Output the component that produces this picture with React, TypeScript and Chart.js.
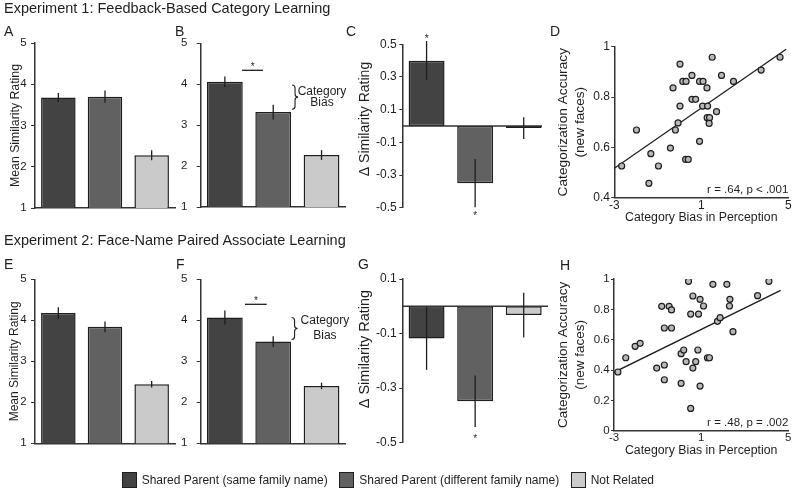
import React, { useEffect, useRef } from 'react';
import { Chart, registerables } from 'chart.js';

Chart.register(...registerables);

const FONT = "'Liberation Sans', Arial, Helvetica, sans-serif";
const INK = '#1e1e1e';
const AXIS = '#333333';
const W = 795;
const H = 490;

Chart.defaults.font.family = FONT;
Chart.defaults.color = INK;

// ---------------- data ----------------
const conditions = [
  'Shared Parent (same family name)',
  'Shared Parent (different family name)',
  'Not Related',
];
const barColors = ['#434343', '#616161', '#cacaca'];

const ratingTicks = [1, 2, 3, 4, 5];
const deltaTicksExp1 = [-0.5, -0.3, -0.1, 0.1, 0.3, 0.5];
const deltaTicksExp2 = [-0.5, -0.3, -0.1, 0.1];
const biasTicks = [-3, 1, 5];
const accTicksExp1 = [0.4, 0.6, 0.8, 1];
const accTicksExp2 = [0, 0.2, 0.4, 0.6, 0.8, 1];

// Experiment 1
const aMeans = [3.68, 3.7, 2.28];
const aErrors = [0.11, 0.15, 0.12];
const bMeans = [4.06, 3.32, 2.27];
const bErrors = [0.13, 0.18, 0.12];
const cDeltas = [0.4, -0.35, -0.013];
const cErrors = [0.12, 0.148, 0.066];
const dBias = [-2.66, -1.98, -1.41, -1.32, -0.97, -0.42, -0.3, -0.19, -0.07, 0.02, 0.02, 0.15, 0.3, 0.28, 0.4, 0.57, 0.57, 0.74, 0.92, 1.08, 0.92, 1.06, 1.26, 1.29, 1.27, 1.38, 1.36, 1.5, 1.7, 1.93, 2.48, 3.75, 4.62];
const dAccuracy = [0.526, 0.669, 0.457, 0.575, 0.526, 0.597, 0.836, 0.669, 0.697, 0.931, 0.764, 0.862, 0.862, 0.552, 0.552, 0.886, 0.791, 0.791, 0.862, 0.862, 0.624, 0.764, 0.836, 0.764, 0.718, 0.718, 0.695, 0.958, 0.742, 0.886, 0.862, 0.907, 0.958];
const dFitX = [-3, 4.9];
const dFitY = [0.517, 0.99];

// Experiment 2
const eMeans = [4.18, 3.84, 2.44];
const eErrors = [0.14, 0.13, 0.08];
const fMeans = [4.07, 3.48, 2.4];
const fErrors = [0.17, 0.13, 0.08];
const gDeltas = [-0.118, -0.348, -0.032];
const gErrors = [0.115, 0.094, 0.082];
const hBias = [-2.82, -2.46, -2.03, -1.8, -1.04, -0.81, -0.69, -0.69, -0.69, -0.47, -0.36, -0.36, 0.08, 0.08, 0.2, 0.31, 0.42, 0.52, 0.52, 0.62, 0.62, 0.75, 0.85, 0.88, 0.95, 0.95, 1.11, 1.29, 1.38, 1.54, 1.75, 1.87, 2.18, 2.32, 2.3, 2.46, 3.59, 4.11];
const hAccuracy = [0.387, 0.481, 0.556, 0.576, 0.413, 0.82, 0.433, 0.336, 0.677, 0.82, 0.796, 0.677, 0.508, 0.312, 0.532, 0.455, 0.985, 0.769, 0.147, 0.888, 0.413, 0.455, 0.532, 0.769, 0.866, 0.294, 0.822, 0.481, 0.481, 0.965, 0.721, 0.745, 0.965, 0.866, 0.822, 0.653, 0.89, 0.985];
const hFitX = [-3, 4.65];
const hFitY = [0.385, 0.925];

// ---------------- helpers ----------------
type Geom = { L: number; T: number; R: number; B: number; wy: number; hx: number };

function padFor(g: Geom) {
  return { left: g.L - g.wy, top: g.T, right: W - g.R, bottom: H - g.B - g.hx };
}

function fixedTicks(values: number[]) {
  return (s: any) => {
    s.ticks = values.map((v) => ({ value: v }));
  };
}

function drawBrace(ctx: CanvasRenderingContext2D, x: number, yTop: number, yBot: number, w: number) {
  const mid = (yTop + yBot) / 2;
  const r = Math.min(3, (yBot - yTop) / 4);
  ctx.beginPath();
  ctx.moveTo(x, yTop);
  ctx.quadraticCurveTo(x + w / 2, yTop, x + w / 2, yTop + r);
  ctx.lineTo(x + w / 2, mid - r);
  ctx.quadraticCurveTo(x + w / 2, mid, x + w, mid);
  ctx.quadraticCurveTo(x + w / 2, mid, x + w / 2, mid + r);
  ctx.lineTo(x + w / 2, yBot - r);
  ctx.quadraticCurveTo(x + w / 2, yBot, x, yBot);
  ctx.stroke();
}

function extrasPlugin(ex: any) {
  return {
    id: 'extras',
    afterDatasetsDraw(chart: any) {
      const ctx: CanvasRenderingContext2D = chart.ctx;
      const xs = chart.scales.x;
      const ys = chart.scales.y;
      const area = chart.chartArea;
      ctx.save();
      ctx.strokeStyle = INK;
      ctx.fillStyle = INK;
      if (ex.zeroLine) {
        const y0 = ys.getPixelForValue(0);
        ctx.strokeStyle = AXIS;
        ctx.lineWidth = 1.5;
        ctx.beginPath();
        ctx.moveTo(area.left, y0);
        ctx.lineTo(area.right - (ex.zeroLine.inset || 0), y0);
        ctx.stroke();
        ctx.strokeStyle = INK;
      }
      if (ex.errors) {
        const meta = chart.getDatasetMeta(0);
        const vals = chart.data.datasets[0].data;
        ctx.lineWidth = 1.3;
        ex.errors.forEach((e: number, i: number) => {
          const px = meta.data[i].x;
          ctx.beginPath();
          ctx.moveTo(px, ys.getPixelForValue(vals[i] + e));
          ctx.lineTo(px, ys.getPixelForValue(vals[i] - e));
          ctx.stroke();
        });
      }
      if (ex.sig) {
        ctx.lineWidth = 1.3;
        const y = ys.getPixelForValue(ex.sig.y);
        ctx.beginPath();
        ctx.moveTo(xs.getPixelForValue(ex.sig.x0), y);
        ctx.lineTo(xs.getPixelForValue(ex.sig.x1), y);
        ctx.stroke();
      }
      if (ex.stars) {
        const size = 10;
        ctx.font = `${size}px ${FONT}`;
        ctx.textAlign = 'center';
        ctx.textBaseline = 'alphabetic';
        ex.stars.forEach((s: any) => {
          ctx.fillText('*', xs.getPixelForValue(s.x), ys.getPixelForValue(s.y) + 0.58 * size);
        });
      }
      if (ex.brace) {
        ctx.lineWidth = 1.1;
        drawBrace(ctx, xs.getPixelForValue(ex.brace.x), ys.getPixelForValue(ex.brace.y0), ys.getPixelForValue(ex.brace.y1), 6);
        ctx.font = `12px ${FONT}`;
        ctx.textAlign = 'center';
        ctx.textBaseline = 'middle';
        ex.brace.labels.forEach((l: any) => {
          ctx.fillText(l.text, xs.getPixelForValue(ex.brace.textX), ys.getPixelForValue(l.y));
        });
      }
      if (ex.sideTitle) {
        const st = ex.sideTitle;
        ctx.font = `${st.size}px ${FONT}`;
        ctx.textAlign = 'center';
        ctx.textBaseline = 'middle';
        ctx.translate(area.left + st.dx, (area.top + area.bottom) / 2 + st.dy);
        ctx.rotate(-Math.PI / 2);
        ctx.fillText(st.text, 0, 0);
        ctx.setTransform(1, 0, 0, 1, 0, 0);
      }
      if (ex.stat) {
        ctx.font = `11.5px ${FONT}`;
        ctx.textAlign = 'right';
        ctx.textBaseline = 'middle';
        ctx.fillText(ex.stat, area.right, area.bottom - 7.5);
      }
      ctx.restore();
    },
  };
}

type BarSpec = {
  values: number[];
  errors: number[];
  min: number;
  max: number;
  ticks: number[];
  g: Geom;
  tickSize: number;
  tickPad: number;
  tickLen: number;
  showX: boolean;
  yTitle?: string;
  yTitleSize?: number;
  extras: any;
};

function barConfig(p: BarSpec): any {
  return {
    type: 'bar',
    data: {
      labels: conditions,
      datasets: [
        {
          data: p.values,
          backgroundColor: barColors,
          borderColor: INK,
          borderWidth: 1.5,
          borderSkipped: false,
          barPercentage: 0.74,
          categoryPercentage: 1,
        },
      ],
    },
    options: {
      responsive: false,
      animation: false,
      events: [],
      layout: { padding: padFor(p.g) },
      plugins: { legend: { display: false }, tooltip: { enabled: false } },
      scales: {
        x: {
          display: p.showX,
          grid: { display: false },
          ticks: { display: false },
          border: { display: true, color: AXIS, width: 1.5 },
          afterFit: (s: any) => {
            s.height = p.g.hx;
          },
        },
        y: {
          min: p.min,
          max: p.max,
          afterBuildTicks: fixedTicks(p.ticks),
          ticks: { font: { size: p.tickSize }, color: INK, padding: p.tickPad, callback: (v: any) => String(v) },
          grid: { display: true, drawOnChartArea: false, drawTicks: true, tickLength: p.tickLen, color: AXIS, lineWidth: 1 },
          border: { display: true, color: AXIS, width: 1.5 },
          title: p.yTitle
            ? { display: true, text: p.yTitle, font: { size: p.yTitleSize }, color: INK, padding: 0 }
            : { display: false },
          afterFit: (s: any) => {
            s.width = p.g.wy;
          },
        },
      },
    },
    plugins: [extrasPlugin({ errors: p.errors, ...p.extras })],
  };
}

type ScatterSpec = {
  xs: number[];
  ys: number[];
  fitX: number[];
  fitY: number[];
  yMin: number;
  yMax: number;
  yTicks: number[];
  g: Geom;
  stat: string;
  tickSize: number;
  xTickPad: number;
  yTitleSize: number;
};

function scatterConfig(p: ScatterSpec): any {
  return {
    type: 'scatter',
    data: {
      datasets: [
        {
          type: 'scatter',
          data: p.xs.map((x, i) => ({ x, y: p.ys[i] })),
          pointRadius: 3,
          pointBackgroundColor: '#b8b8b8',
          pointBorderColor: INK,
          pointBorderWidth: 1.2,
        },
        {
          type: 'line',
          data: p.fitX.map((x, i) => ({ x, y: p.fitY[i] })),
          borderColor: INK,
          borderWidth: 1.3,
          pointRadius: 0,
          showLine: true,
          fill: false,
        },
      ],
    },
    options: {
      responsive: false,
      animation: false,
      events: [],
      layout: { padding: padFor(p.g) },
      plugins: { legend: { display: false }, tooltip: { enabled: false } },
      scales: {
        x: {
          type: 'linear',
          min: -3,
          max: 5,
          afterBuildTicks: fixedTicks(biasTicks),
          ticks: { font: { size: p.tickSize }, color: INK, padding: p.xTickPad, callback: (v: any) => String(v) },
          grid: { display: false },
          border: { display: true, color: AXIS, width: 1.5 },
          title: { display: true, text: 'Category Bias in Perception', font: { size: 12.3 }, color: INK, padding: 0 },
          afterFit: (s: any) => {
            s.height = p.g.hx;
          },
        },
        y: {
          min: p.yMin,
          max: p.yMax,
          afterBuildTicks: fixedTicks(p.yTicks),
          ticks: { font: { size: p.tickSize }, color: INK, padding: 1.3, callback: (v: any) => String(v) },
          grid: { display: true, drawOnChartArea: false, drawTicks: true, tickLength: 3, color: AXIS, lineWidth: 1 },
          border: { display: true, color: AXIS, width: 1.5 },
          title: {
            display: true,
            text: ['Categorization Accuracy', '(new faces)'],
            font: { size: p.yTitleSize, lineHeight: 1.25 },
            color: INK,
            padding: 0,
          },
          afterFit: (s: any) => {
            s.width = p.g.wy;
          },
        },
      },
    },
    plugins: [extrasPlugin({ stat: p.stat })],
  };
}

// ---------------- panel configs ----------------
const panelA = () =>
  barConfig({
    values: aMeans, errors: aErrors, min: 1, max: 5, ticks: ratingTicks,
    g: { L: 35, T: 43, R: 175, B: 208, wy: 27.1, hx: 0 },
    tickSize: 11.5, tickPad: 4.3, tickLen: 4, showX: true,
    yTitle: 'Mean Similarity Rating', yTitleSize: 12.3, extras: {},
  });

const panelB = () =>
  barConfig({
    values: bMeans, errors: bErrors, min: 1, max: 5, ticks: ratingTicks,
    g: { L: 200.7, T: 43.3, R: 345.7, B: 207, wy: 30, hx: 0 },
    tickSize: 11.5, tickPad: 9.4, tickLen: 4, showX: true,
    extras: {
      sig: { x0: 0.355, x1: 0.79, y: 4.34 },
      stars: [{ x: 0.576, y: 4.48 }],
      brace: {
        x: 1.39, y0: 3.98, y1: 3.39, textX: 2.01,
        labels: [{ text: 'Category', y: 3.81 }, { text: 'Bias', y: 3.54 }],
      },
    },
  });

const panelC = () =>
  barConfig({
    values: cDeltas, errors: cErrors, min: -0.5, max: 0.5, ticks: deltaTicksExp1,
    g: { L: 402.3, T: 44.3, R: 548, B: 207.7, wy: 40, hx: 0 },
    tickSize: 12, tickPad: 2.6, tickLen: 3, showX: false,
    extras: {
      zeroLine: { inset: 6 },
      stars: [{ x: 0, y: 0.547 }, { x: 1, y: -0.531 }],
      sideTitle: { text: 'Δ Similarity Rating', size: 14, dx: -37.3, dy: -7 },
    },
  });

const panelD = () =>
  scatterConfig({
    xs: dBias, ys: dAccuracy, fitX: dFitX, fitY: dFitY, yMin: 0.4, yMax: 1, yTicks: accTicksExp1,
    g: { L: 614.3, T: 46.7, R: 788.3, B: 197.7, wy: 59.9, hx: 27.7 },
    stat: 'r = .64, p < .001', tickSize: 12, xTickPad: -7, yTitleSize: 13.7,
  });

const panelE = () =>
  barConfig({
    values: eMeans, errors: eErrors, min: 1, max: 5, ticks: ratingTicks,
    g: { L: 35, T: 279.3, R: 175, B: 443.3, wy: 27.2, hx: 0 },
    tickSize: 11.5, tickPad: 4.3, tickLen: 4, showX: true,
    yTitle: 'Mean Similarity Rating', yTitleSize: 12, extras: {},
  });

const panelF = () =>
  barConfig({
    values: fMeans, errors: fErrors, min: 1, max: 5, ticks: ratingTicks,
    g: { L: 200.7, T: 279.3, R: 345.7, B: 443.3, wy: 30, hx: 0 },
    tickSize: 11.5, tickPad: 9.4, tickLen: 4, showX: true,
    extras: {
      sig: { x0: 0.417, x1: 0.866, y: 4.39 },
      stars: [{ x: 0.644, y: 4.54 }],
      brace: {
        x: 1.38, y0: 4.07, y1: 3.53, textX: 2.07,
        labels: [{ text: 'Category', y: 3.98 }, { text: 'Bias', y: 3.63 }],
      },
    },
  });

const panelG = () =>
  barConfig({
    values: gDeltas, errors: gErrors, min: -0.5, max: 0.1, ticks: deltaTicksExp2,
    g: { L: 402.3, T: 279, R: 548, B: 442.7, wy: 40, hx: 0 },
    tickSize: 12, tickPad: 2.6, tickLen: 3, showX: false,
    extras: {
      zeroLine: { inset: 0 },
      stars: [{ x: 1, y: -0.477 }],
      sideTitle: { text: 'Δ Similarity Rating', size: 14.5, dx: -37.3, dy: -11.8 },
    },
  });

const panelH = () =>
  scatterConfig({
    xs: hBias, ys: hAccuracy, fitX: hFitX, fitY: hFitY, yMin: 0, yMax: 1, yTicks: accTicksExp2,
    g: { L: 614, T: 279, R: 788.3, B: 430.7, wy: 59.3, hx: 27.2 },
    stat: 'r = .48, p = .002', tickSize: 11.5, xTickPad: -7.5, yTitleSize: 13.5,
  });

const panels = [panelA, panelB, panelC, panelD, panelE, panelF, panelG, panelH];

function Panel({ make }: { make: () => any }) {
  const ref = useRef<HTMLCanvasElement | null>(null);
  useEffect(() => {
    if (!ref.current) return;
    const chart = new Chart(ref.current, make());
    return () => chart.destroy();
  }, [make]);
  return (
    <canvas
      ref={ref}
      width={W}
      height={H}
      style={{ position: 'absolute', left: 0, top: 0, width: W, height: H }}
    />
  );
}

const letters = [
  { t: 'A', x: 4, y: 22.5 },
  { t: 'B', x: 175, y: 22.5 },
  { t: 'C', x: 346, y: 22.5 },
  { t: 'D', x: 550, y: 22.5 },
  { t: 'E', x: 4, y: 255.5 },
  { t: 'F', x: 176, y: 255.5 },
  { t: 'G', x: 358, y: 255.5 },
  { t: 'H', x: 560, y: 256.5 },
];

export default function App() {
  const textBase: React.CSSProperties = { position: 'absolute', color: INK, fontFamily: FONT, whiteSpace: 'nowrap' };
  return (
    <div style={{ position: 'fixed', left: 0, top: 0, width: W, height: H, background: '#fff', overflow: 'hidden', fontFamily: FONT }}>
      {panels.map((m, i) => (
        <Panel key={i} make={m} />
      ))}
      <div style={{ ...textBase, left: 4, top: 0, fontSize: 14.5, lineHeight: '17px' }}>
        Experiment 1: Feedback-Based Category Learning
      </div>
      <div style={{ ...textBase, left: 4, top: 232, fontSize: 14.5, lineHeight: '17px' }}>
        Experiment 2: Face-Name Paired Associate Learning
      </div>
      {letters.map((l) => (
        <div key={l.t} style={{ ...textBase, left: l.x, top: l.y, fontSize: 14, lineHeight: '16px' }}>
          {l.t}
        </div>
      ))}
      <div style={{ ...textBase, left: 121.7, top: 471.5, display: 'flex', alignItems: 'center', fontSize: 12, lineHeight: '16px' }}>
        {conditions.map((c, i) => (
          <div key={c} style={{ display: 'flex', alignItems: 'center', marginRight: 11.5 }}>
            <div
              style={{
                width: 15,
                height: 16,
                boxSizing: 'border-box',
                border: `1.5px solid ${INK}`,
                background: barColors[i],
                marginRight: 5,
              }}
            />
            <span>{c}</span>
          </div>
        ))}
      </div>
    </div>
  );
}
